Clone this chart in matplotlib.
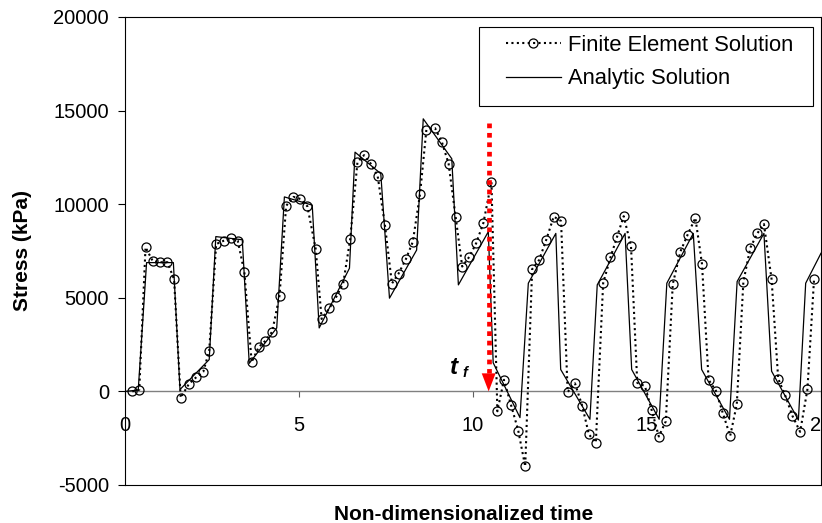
import matplotlib
matplotlib.use("Agg")
import matplotlib.pyplot as plt
from matplotlib.patches import Rectangle

plt.rcParams['font.family'] = ['Liberation Sans', 'DejaVu Sans']

# Finite element solution (sampled points)
fe_time = [0.21, 0.41, 0.59, 0.80, 1.00, 1.22, 1.41, 1.60, 1.84, 2.05,
           2.25, 2.42, 2.62, 2.84, 3.05, 3.24, 3.43, 3.64, 3.84, 4.03,
           4.23, 4.44, 4.63, 4.84, 5.04, 5.24, 5.48, 5.65, 5.87, 6.07,
           6.27, 6.47, 6.68, 6.87, 7.06, 7.26, 7.47, 7.67, 7.86, 8.07,
           8.27, 8.48, 8.66, 8.91, 9.11, 9.30, 9.50, 9.69, 9.89, 10.09,
           10.30, 10.53, 10.70, 10.89, 11.09, 11.30, 11.50, 11.70, 11.90, 12.10,
           12.32, 12.53, 12.72, 12.93, 13.14, 13.33, 13.53, 13.74, 13.95, 14.14,
           14.33, 14.54, 14.72, 14.94, 15.13, 15.34, 15.54, 15.74, 15.96, 16.17,
           16.39, 16.58, 16.77, 16.98, 17.18, 17.39, 17.58, 17.77, 17.97, 18.17,
           18.36, 18.58, 18.77, 18.97, 19.18, 19.40, 19.61, 19.80]
fe_stress = [0, 90, 7700, 6950, 6900, 6900, 5990, -340, 410, 760,
             1050, 2180, 7870, 8050, 8170, 8050, 6370, 1560, 2360, 2700,
             3190, 5110, 9910, 10390, 10280, 9890, 7610, 3870, 4430, 5050,
             5760, 8120, 12250, 12620, 12170, 11510, 8870, 5760, 6290, 7060,
             7990, 10570, 13970, 14060, 13300, 12150, 9330, 6670, 7180, 7910,
             9010, 11190, -1060, 620, -710, -2090, -4010, 6530, 7020, 8070,
             9340, 9100, -35, 430, -780, -2300, -2730, 5780, 7160, 8260,
             9360, 7770, 460, 280, -970, -2410, -1600, 5730, 7470, 8380,
             9270, 6810, 620, 35, -1170, -2380, -690, 5870, 7680, 8440,
             8940, 5990, 680, -210, -1310, -2160, 110, 5990]

# Analytic solution (piecewise curve)
an_time = [0.0, 0.38, 0.62, 1.39, 1.58, 2.42, 2.61, 3.37, 3.57, 4.36,
           4.58, 5.38, 5.58, 6.45, 6.61, 7.35, 7.60, 8.38, 8.57, 9.39,
           9.58, 10.44, 10.58, 11.35, 11.59, 12.38, 12.52, 13.36, 13.57, 14.37,
           14.56, 15.35, 15.57, 16.33, 16.57, 17.37, 17.59, 18.36, 18.58, 19.35,
           19.56, 20.0]
an_stress = [0, 70, 6880, 6880, 100, 1700, 8270, 8100, 1500, 3390,
             10390, 9950, 3390, 6580, 12780, 11630, 4980, 7550, 14560, 12430,
             5690, 8530, 1530, -1400, 5780, 8440, 1170, -1490, 5690, 8440,
             1170, -1490, 5780, 8440, 1170, -1490, 5870, 8440, 1080, -1530,
             5780, 7380]

# Failure time marker
t_failure = 10.45
arrow_top = 14360
arrow_head_base = 1000

x_ticks = [0, 5, 10, 15, 20]
x_tick_labels = ['0', '5', '10', '15', '20']
y_ticks = [-5000, 0, 5000, 10000, 15000, 20000]
y_tick_labels = ['-5000', '0', '5000', '10000', '15000', '20000']

W, H = 822, 523
fig = plt.figure(figsize=(W / 100, H / 100), dpi=100)
ax = fig.add_axes([125 / W, 38 / H, 696 / W, 468 / H])
ax.set_xlim(0, 20)
ax.set_ylim(-5000, 20000)

an_line, = ax.plot(an_time, an_stress, color='black', lw=0.9, zorder=3,
                   label='Analytic Solution')
fe_line, = ax.plot(fe_time, fe_stress, color='black', lw=1.5,
                   linestyle=(0, (1, 1.6)), marker='o', ms=6.5, mfc='none',
                   mec='black', mew=0.9, zorder=4,
                   label='Finite Element Solution')

# red dotted arrow marking t_f
ax.plot([t_failure, t_failure], [arrow_top, arrow_head_base], color='red',
        lw=3.4, linestyle=(0, (1, 1)), dash_capstyle='butt', zorder=6)
ax.annotate('', xy=(t_failure, 0), xytext=(t_failure, 2500),
            arrowprops=dict(arrowstyle='-|>,head_length=13,head_width=5',
                            mutation_scale=1, color='red', lw=0,
                            shrinkA=0, shrinkB=0), zorder=6)
ax.text(9.34, 904, 't', fontsize=17.5, fontweight='bold', fontstyle='italic',
        ha='left', va='baseline', zorder=7)
ax.text(9.71, 745, 'f', fontsize=10.5, fontweight='bold', fontstyle='italic',
        ha='left', va='baseline', zorder=7)

# y axis
ax.set_yticks(y_ticks)
ax.set_yticklabels(y_tick_labels)
ax.tick_params(axis='y', direction='out', length=5, width=0.8, pad=6.5,
               labelsize=14.5, colors='black')
ax.tick_params(axis='x', bottom=False, labelbottom=False)
for s in ax.spines.values():
    s.set_color('black')
    s.set_linewidth(0.8)

# x axis crossing at zero stress
ylo, yhi = ax.get_ylim()
sec = ax.secondary_xaxis((0 - ylo) / (yhi - ylo))
sec.set_xticks(x_ticks)
sec.set_xticklabels(x_tick_labels)
sec.spines['bottom'].set_color('#808080')
sec.spines['bottom'].set_linewidth(1.0)
sec.tick_params(axis='x', direction='out', length=4.3, width=0.8,
                color='#606060', pad=13.5, labelsize=14.5, labelcolor='black')

ax.set_ylabel('Stress (kPa)', fontsize=15, fontweight='bold')
ax.yaxis.set_label_coords(-0.133, 0.5)
ax.set_xlabel('Non-dimensionalized time', fontsize=15, fontweight='bold',
              va='top')
ax.xaxis.set_label_coords(0.487, -0.042)

# legend
box = Rectangle((0.5086, 0.8098), 0.9885 - 0.5086, 0.9786 - 0.8098,
                transform=ax.transAxes, facecolor='white', edgecolor='black',
                lw=0.8, zorder=8)
ax.add_patch(box)
leg = ax.legend(handles=[fe_line, an_line], loc='upper left',
                bbox_to_anchor=(0.5474, 0.962), frameon=False, fontsize=15.8,
                borderpad=0, borderaxespad=0, handlelength=2.5,
                handletextpad=0.32, labelspacing=0.57)
leg.set_zorder(9)

fig.savefig('out.png', dpi=100)
